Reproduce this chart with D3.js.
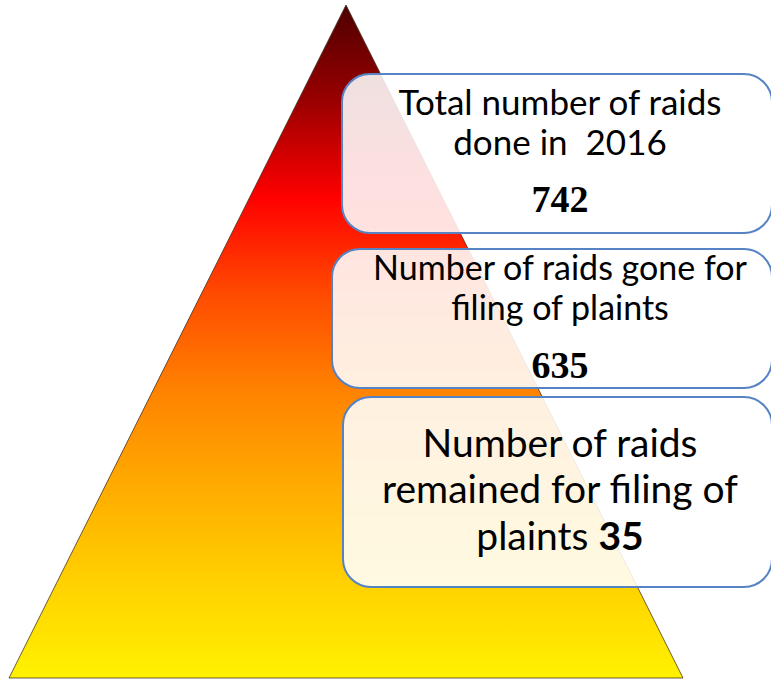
<!DOCTYPE html>
<html>
<head>
<meta charset="utf-8">
<script src="https://cdn.jsdelivr.net/npm/d3@7"></script>
<style>
  body { margin: 0; background: #fff; }
  svg { display: block; }
</style>
</head>
<body>
<div id="chart"></div>
<script>
// Data
var boxLabels = [
    ["Total number of raids", "done in  2016"],
    ["Number of raids gone for", "filing of plaints"],
    ["Number of raids", "remained for filing of", "plaints "]
];
var boxValues = [742, 635, 35];

// Gradient colours, top to bottom of the pyramid
var gradStops = ["#4e0000", "#9a0000", "#ff0000", "#ff4a00", "#ff8200", "#ffab00", "#ffd100", "#fff200"];

var width = 771,
    height = 679;

var svg = d3.select("#chart")
    .append("svg")
    .attr("width", width)
    .attr("height", height);

var defs = svg.append("defs");

// Vertical gradient for the pyramid
var grad = defs.append("linearGradient")
    .attr("id", "pyrGrad")
    .attr("x1", 0).attr("y1", 0)
    .attr("x2", 0).attr("y2", 1);

var stopScale = d3.scaleLinear().domain([0, gradStops.length - 1]).range([0, 100]);
grad.selectAll("stop")
    .data(gradStops)
    .enter()
    .append("stop")
    .attr("offset", function (d, i) { return stopScale(i) + "%"; })
    .attr("stop-color", function (d) { return d; });

// Pyramid
var apex = [346, 5], baseL = [9, 678], baseR = [683, 678];
svg.append("path")
    .attr("d", d3.line()([apex, baseR, baseL]) + "Z")
    .attr("fill", "url(#pyrGrad)")
    .attr("stroke", "#3a2a1a")
    .attr("stroke-opacity", 0.75)
    .attr("stroke-width", 1);

// Boxes layout
var boxLayout = [
    { x: 342, y: 74, h: 159, lineY: [115, 155], valY: 212, fs: 35 },
    { x: 332, y: 249, h: 139, lineY: [280, 320], valY: 378, fs: 34 },
    { x: 343, y: 397, h: 190, lineY: [457, 503, 550], valY: null, fs: 39 }
];
var cx = 560;

var g = svg.selectAll(".box")
    .data(boxLabels)
    .enter()
    .append("g")
    .attr("class", "box");

g.append("rect")
    .attr("x", function (d, i) { return boxLayout[i].x; })
    .attr("y", function (d, i) { return boxLayout[i].y; })
    .attr("width", function (d, i) { return 440 - (boxLayout[i].x - 332); })
    .attr("height", function (d, i) { return boxLayout[i].h; })
    .attr("rx", 28)
    .attr("fill", "#fff")
    .attr("fill-opacity", 0.88)
    .attr("stroke", "#5683c4")
    .attr("stroke-width", 2);

g.each(function (lines, i) {
    var lay = boxLayout[i];
    var sel = d3.select(this);
    lines.forEach(function (line, j) {
        var t = sel.append("text")
            .attr("x", cx)
            .attr("y", lay.lineY[j])
            .attr("text-anchor", "middle")
            .attr("font-family", "Lato, 'Open Sans', sans-serif")
            .attr("font-size", lay.fs)
            .attr("fill", "#000")
            .attr("xml:space", "preserve")
            .style("white-space", "pre")
            .text(line);
        // last box carries its value inline
        if (lay.valY === null && j === lines.length - 1) {
            t.append("tspan")
                .attr("font-weight", "bold")
                .text(boxValues[i]);
        }
    });
    if (lay.valY !== null) {
        sel.append("text")
            .attr("x", cx)
            .attr("y", lay.valY)
            .attr("text-anchor", "middle")
            .attr("font-family", "'Liberation Serif', 'Times New Roman', serif")
            .attr("font-weight", "bold")
            .attr("font-size", 38)
            .attr("fill", "#000")
            .text(boxValues[i]);
    }
});
</script>
</body>
</html>
